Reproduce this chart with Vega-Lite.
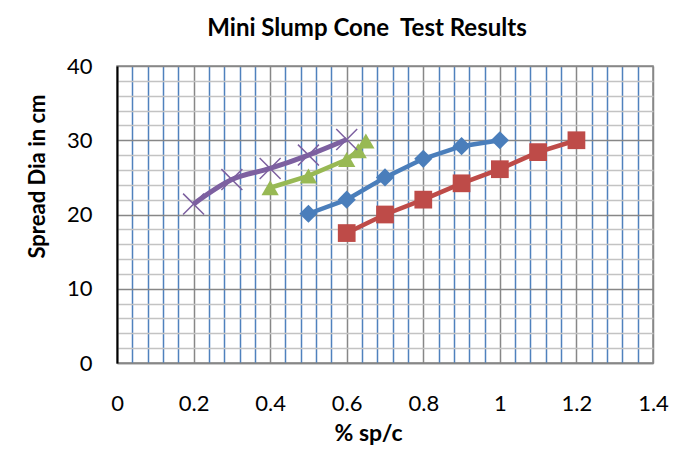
{
  "$schema": "https://vega.github.io/schema/vega-lite/v6.json",
  "autosize": "none",
  "width": 536,
  "height": 297,
  "padding": {"left": 117, "top": 66, "right": 42, "bottom": 91},
  "background": "white",
  "title": {
    "text": "Mini Slump Cone\u00a0 Test Results",
    "font": "Lato",
    "fontSize": 24,
    "fontWeight": "bold",
    "color": "black",
    "anchor": "middle",
    "dx": -18,
    "offset": 14
  },
  "config": {
    "view": {"stroke": "#878787", "strokeWidth": 1.5},
    "font": "Lato"
  },
  "data": {
    "values": [
      {"series": "Series1", "sp": 0.5, "spread": 20.1},
      {"series": "Series1", "sp": 0.6, "spread": 22.0},
      {"series": "Series1", "sp": 0.7, "spread": 25.0},
      {"series": "Series1", "sp": 0.8, "spread": 27.5},
      {"series": "Series1", "sp": 0.9, "spread": 29.2},
      {"series": "Series1", "sp": 1.0, "spread": 30.0},
      {"series": "Series2", "sp": 0.6, "spread": 17.5},
      {"series": "Series2", "sp": 0.7, "spread": 20.0},
      {"series": "Series2", "sp": 0.8, "spread": 22.0},
      {"series": "Series2", "sp": 0.9, "spread": 24.2},
      {"series": "Series2", "sp": 1.0, "spread": 26.1},
      {"series": "Series2", "sp": 1.1, "spread": 28.4},
      {"series": "Series2", "sp": 1.2, "spread": 30.0},
      {"series": "Series3", "sp": 0.4, "spread": 23.6},
      {"series": "Series3", "sp": 0.5, "spread": 25.2},
      {"series": "Series3", "sp": 0.6, "spread": 27.4},
      {"series": "Series3", "sp": 0.63, "spread": 28.6},
      {"series": "Series3", "sp": 0.65, "spread": 29.9},
      {"series": "Series4", "sp": 0.2, "spread": 21.4},
      {"series": "Series4", "sp": 0.3, "spread": 24.7},
      {"series": "Series4", "sp": 0.4, "spread": 26.2},
      {"series": "Series4", "sp": 0.5, "spread": 28.0},
      {"series": "Series4", "sp": 0.6, "spread": 30.1}
    ]
  },
  "encoding": {
    "x": {
      "field": "sp",
      "type": "quantitative",
      "scale": {"domain": [0, 1.4], "nice": false, "zero": false},
      "axis": {
        "title": "% sp/c",
        "titleFont": "Lato",
        "titleFontSize": 23,
        "titleFontWeight": "bold",
        "titleColor": "black",
        "titlePadding": 8,
        "titleX": 251,
        "values": [0, 0.04, 0.08, 0.12, 0.16, 0.2, 0.24, 0.28, 0.32, 0.36, 0.4, 0.44, 0.48, 0.52, 0.56, 0.6, 0.64, 0.68, 0.72, 0.76, 0.8, 0.84, 0.88, 0.92, 0.96, 1.0, 1.04, 1.08, 1.12, 1.16, 1.2, 1.24, 1.28, 1.32, 1.36, 1.4],
        "labelExpr": "abs(datum.value/0.2 - round(datum.value/0.2)) < 0.001 ? format(datum.value, '~g') : ''",
        "labelFont": "Lato",
        "labelFontSize": 22,
        "labelColor": "black",
        "labelPadding": 30,
        "labelOverlap": false,
        "labelFlush": false,
        "ticks": false,
        "domainColor": "#878787",
        "domainWidth": 1.5,
        "grid": true,
        "gridWidth": 1.5,
        "gridOpacity": 1,
        "gridColor": {"condition": {"test": "abs(datum.value/0.2 - round(datum.value/0.2)) < 0.001", "value": "#878787"}, "value": "#4F81BD"}
      }
    },
    "y": {
      "field": "spread",
      "type": "quantitative",
      "scale": {"domain": [0, 40], "nice": false},
      "axis": {
        "title": "Spread Dia in cm",
        "titleFont": "Lato",
        "titleFontSize": 22,
        "titleFontWeight": "bold",
        "titleColor": "black",
        "titlePadding": 17,
        "titleY": 110,
        "values": [0, 2, 4, 6, 8, 10, 12, 14, 16, 18, 20, 22, 24, 26, 28, 30, 32, 34, 36, 38, 40],
        "labelExpr": "datum.value % 10 == 0 ? format(datum.value, 'd') : ''",
        "labelFont": "Lato",
        "labelFontSize": 22,
        "labelColor": "black",
        "labelPadding": 25,
        "labelOverlap": false,
        "ticks": false,
        "domainColor": "black",
        "domainWidth": 2,
        "grid": true,
        "gridWidth": 1.5,
        "gridOpacity": 1,
        "gridColor": {"condition": {"test": "datum.value % 10 == 0", "value": "#878787"}, "value": "#C3C3C3"}
      }
    },
    "color": {
      "field": "series",
      "type": "nominal",
      "scale": {"domain": ["Series1", "Series2", "Series3", "Series4"], "range": ["#4A7EBB", "#BE4B48", "#98B954", "#7D60A0"]},
      "legend": null
    }
  },
  "layer": [
    {
      "transform": [{"filter": "datum.series != 'Series4'"}],
      "mark": {"type": "line", "strokeWidth": 4.5},
      "encoding": {"detail": {"field": "series"}}
    },
    {
      "transform": [{"filter": "datum.series == 'Series4'"}],
      "mark": {"type": "line", "strokeWidth": 5, "interpolate": "monotone"},
      "encoding": {}
    },
    {
      "transform": [{"filter": "datum.series != 'Series4'"}],
      "mark": {"type": "point", "filled": true, "opacity": 1},
      "encoding": {
        "shape": {
          "field": "series",
          "type": "nominal",
          "scale": {"domain": ["Series1", "Series2", "Series3"], "range": ["diamond", "square", "triangle-up"]},
          "legend": null
        },
        "size": {
          "field": "series",
          "type": "nominal",
          "scale": {"domain": ["Series1", "Series2", "Series3"], "range": [330, 300, 330]},
          "legend": null
        }
      }
    },
    {
      "transform": [{"filter": "datum.series == 'Series4'"}],
      "mark": {"type": "point", "shape": "M-1,-1L1,1M-1,1L1,-1", "filled": false, "strokeWidth": 1.5, "size": 440, "opacity": 1},
      "encoding": {}
    }
  ]
}
